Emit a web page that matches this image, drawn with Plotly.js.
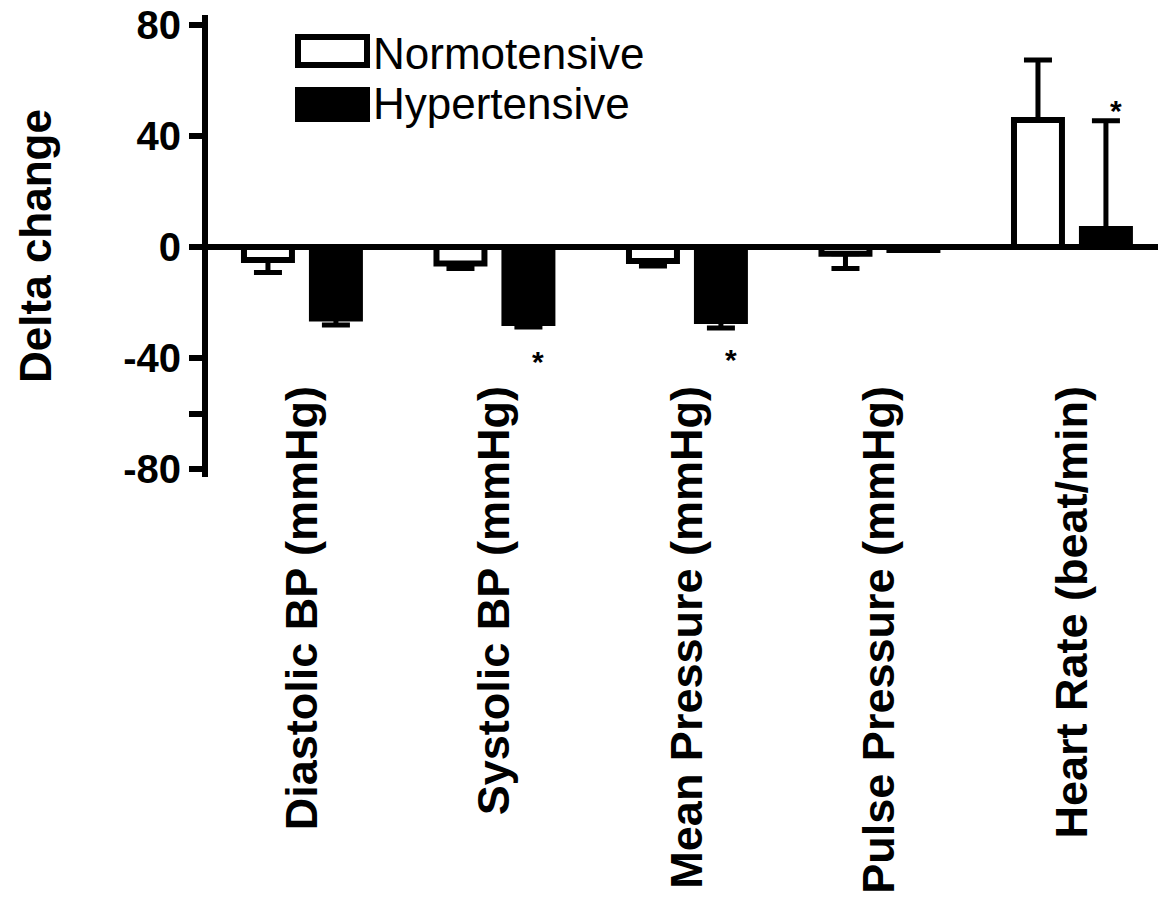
<!DOCTYPE html>
<html>
<head>
<meta charset="utf-8">
<script src="https://cdn.plot.ly/plotly-3.0.1.min.js"></script>
<style>
  html, body { margin: 0; padding: 0; background: #ffffff; }
  #chart { width: 1158px; height: 904px; }
</style>
</head>
<body>
<div id="chart"></div>
<script>
// ---- data ----
const categories = ['Diastolic BP (mmHg)', 'Systolic BP (mmHg)', 'Mean Pressure (mmHg)', 'Pulse Pressure (mmHg)', 'Heart Rate (beat/min)'];
const seriesNames = ['Normotensive', 'Hypertensive'];
const normotensive = [-4.7, -5.9, -5.0, -2.4, 45.7];
const normotensiveErr = [4.5, 1.8, 1.8, 5.3, 21.6];
const hypertensive = [-25.7, -27.3, -26.6, -1.1, 6.5];
const hypertensiveErr = [2.3, 1.5, 2.5, 0, 38.9];
const starCategories = ['Systolic BP (mmHg)', 'Mean Pressure (mmHg)', 'Heart Rate (beat/min)'];
const starValues = [-38.5, -37.8, 51.8];
const yTickVals = [-80, -60, -40, 0, 40, 80];
const yTickText = ['-80', '', '-40', '0', '40', '80'];

// ---- layout constants ----
const W = 1158, H = 904;
const M = { l: 208, r: 0, t: 15, b: 427 };
const PW = W - M.l - M.r, PH = H - M.t - M.b;
const FONT = 'Liberation Sans, Arial, Helvetica, sans-serif';
const px2x = p => (p - M.l) / PW;
const px2y = p => (H - M.b - p) / PH;

function errUp(vals, errs) { return vals.map((v, i) => v > 0 ? errs[i] : 0); }
function errDown(vals, errs) { return vals.map((v, i) => v < 0 ? errs[i] : 0); }

const barLine = { color: '#000000', width: 6 };
const errStyle = { type: 'data', symmetric: false, color: '#000000', thickness: 5, width: 14 };

const traces = [
  {
    type: 'bar', name: seriesNames[0], x: categories, y: normotensive,
    marker: { color: '#ffffff', line: barLine },
    error_y: Object.assign({}, errStyle, { array: errUp(normotensive, normotensiveErr), arrayminus: errDown(normotensive, normotensiveErr) }),
    hoverinfo: 'skip'
  },
  {
    type: 'bar', name: seriesNames[1], x: categories, y: hypertensive,
    marker: { color: '#000000', line: barLine },
    error_y: Object.assign({}, errStyle, { array: errUp(hypertensive, hypertensiveErr), arrayminus: errDown(hypertensive, hypertensiveErr) }),
    hoverinfo: 'skip'
  }
];

const annotations = starCategories.map((c, i) => ({
  x: c, y: starValues[i], xref: 'x', yref: 'y', text: '*', showarrow: false,
  xshift: 44, yshift: -7, font: { family: FONT, size: 30, color: '#000000', weight: 'bold' }
}));

// custom legend (large boxes, as in the reference)
const legendRows = [
  { fill: '#ffffff', top: 37, bottom: 65, textY: 54 },
  { fill: '#000000', top: 90, bottom: 119, textY: 104 }
];
const shapes = legendRows.map(r => ({
  type: 'rect', xref: 'paper', yref: 'paper',
  x0: px2x(298), x1: px2x(367), y0: px2y(r.bottom), y1: px2y(r.top),
  line: { color: '#000000', width: 6 }, fillcolor: r.fill
}));
legendRows.forEach((r, i) => {
  annotations.push({
    xref: 'paper', yref: 'paper', x: px2x(371), y: px2y(r.textY),
    xanchor: 'left', yanchor: 'middle', text: seriesNames[i], showarrow: false,
    font: { family: FONT, size: 44, color: '#000000' }
  });
});

const layout = {
  width: W, height: H,
  margin: M,
  paper_bgcolor: '#ffffff', plot_bgcolor: '#ffffff',
  showlegend: false,
  barmode: 'group', bargap: 0.294, bargroupgap: 0.294,
  font: { family: FONT, color: '#000000' },
  xaxis: {
    type: 'category', range: [-0.488, 4.447],
    anchor: 'free', position: px2y(376),
    showline: false, ticks: '', showgrid: false, zeroline: false,
    tickangle: -90,
    tickfont: { family: FONT, size: 45, color: '#000000', weight: 'bold' }
  },
  yaxis: {
    range: [-82.7, 83.45],
    tickvals: yTickVals, ticktext: yTickText,
    ticks: 'outside', ticklen: 13, tickwidth: 6, tickcolor: '#000000',
    showline: true, linewidth: 6, linecolor: '#000000',
    showgrid: false,
    zeroline: true, zerolinewidth: 6, zerolinecolor: '#000000',
    tickfont: { family: FONT, size: 40, color: '#000000', weight: 'bold' },
    title: { text: 'Delta change', standoff: 60, font: { family: FONT, size: 44, color: '#000000', weight: 'bold' } }
  },
  shapes: shapes,
  annotations: annotations
};

Plotly.newPlot('chart', traces, layout, { displayModeBar: false, staticPlot: true });
</script>
</body>
</html>
